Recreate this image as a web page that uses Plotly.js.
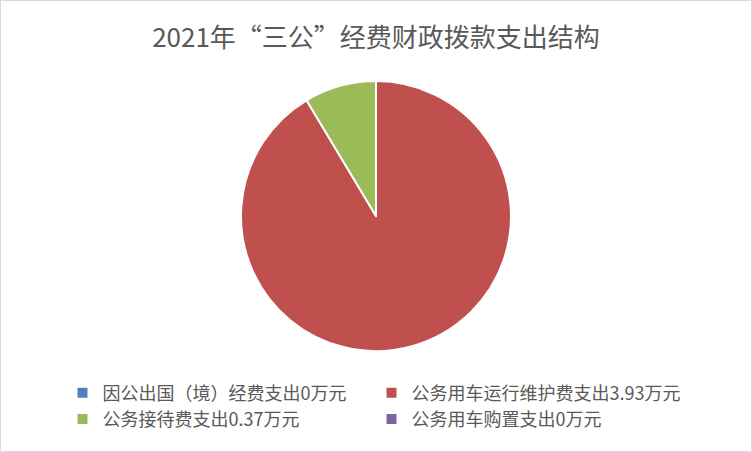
<!DOCTYPE html>
<html>
<head>
<meta charset="utf-8">
<script src="https://cdn.plot.ly/plotly-3.0.1.min.js"></script>
<style>
  html, body { margin: 0; padding: 0; background: #fff; }
  #plot { width: 750px; height: 450px; border: 1px solid #d9d9d9; }
</style>
</head>
<body>
<div id="plot"></div>
<script>
// 2021年“三公”经费财政拨款支出（万元）
var labels = ['因公出国（境）经费支出0万元', '公务用车运行维护费支出3.93万元', '公务接待费支出0.37万元', '公务用车购置支出0万元'];
var values = [0, 3.93, 0.37, 0];
var colors = ['#4F81BD', '#C0504D', '#9BBB59', '#8064A2'];

var trace = {
  type: 'pie',
  labels: labels,
  values: values,
  sort: false,
  direction: 'clockwise',
  rotation: 0,
  textinfo: 'none',
  hoverinfo: 'label+value',
  marker: { colors: colors, line: { color: '#ffffff', width: 2 } },
  domain: { x: [0, 1], y: [0.222, 0.822] }
};

var layout = {
  width: 750,
  height: 450,
  margin: { l: 0, r: 0, t: 0, b: 0 },
  font: { family: '"Noto Sans CJK SC", sans-serif', color: '#595959' },
  title: {
    text: '2021年“三公”经费财政拨款支出结构',
    font: { family: '"Noto Sans CJK SC", sans-serif', size: 26, color: '#595959' },
    x: 0.5, xanchor: 'center', y: 0.918, yanchor: 'middle'
  },
  showlegend: true,
  legend: {
    orientation: 'h',
    x: 0.082, xanchor: 'left',
    y: 0.17, yanchor: 'top',
    entrywidth: 264,
    traceorder: 'normal',
    font: { size: 18, color: '#595959' },
    itemwidth: 30
  }
};

Plotly.newPlot('plot', [trace], layout, { displayModeBar: false });
</script>
</body>
</html>
